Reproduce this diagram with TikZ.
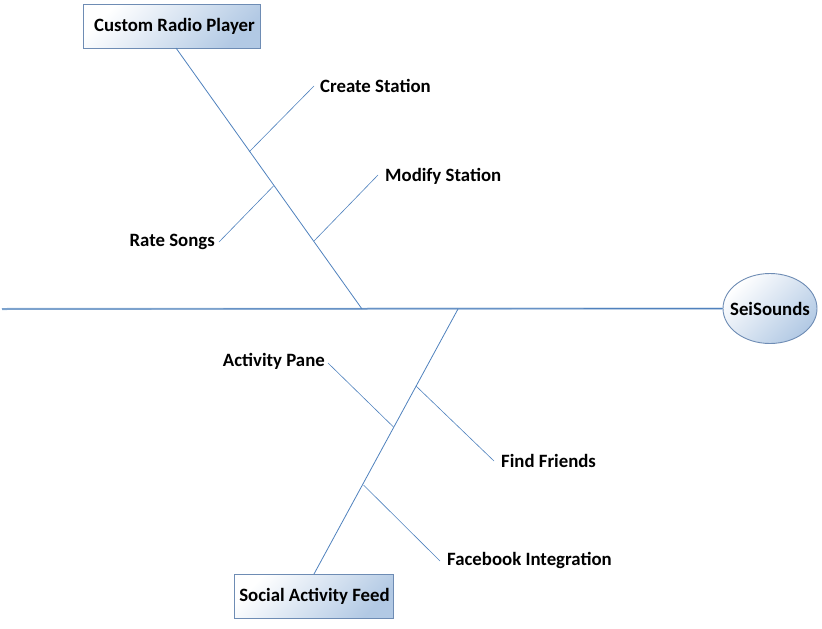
\documentclass[tikz,border=0pt]{standalone}
\usepackage{fontspec}
\setmainfont{Carlito}
\usetikzlibrary{shapes.geometric}
\definecolor{linec}{RGB}{79,129,189}
\definecolor{spinec}{RGB}{150,180,215}
\definecolor{boxblue}{RGB}{178,201,228}
\definecolor{boxline}{RGB}{110,140,180}
\tikzset{
  lbl/.style={font=\fontsize{18.8}{22}\selectfont\bfseries, inner sep=0pt},
  headbox/.style={draw=boxline, line width=0.9pt, top color=white, bottom color=boxblue, shading angle=45, minimum height=44pt, inner sep=0pt, font=\fontsize{18.8}{22}\selectfont\bfseries},
  headell/.style={ellipse, draw=boxline, line width=0.9pt, top color=white, bottom color=boxblue, shading angle=45, minimum width=94pt, minimum height=70pt, inner xsep=-8pt, inner ysep=0pt, font=\fontsize{18.8}{22}\selectfont\bfseries},
  bone/.style={draw=linec, line width=0.8pt},
  rib/.style={draw=linec, line width=0.6pt},
  spine/.style={draw=spinec, line width=2pt},
  spinecore/.style={draw=linec, line width=0.7pt}
}
\begin{document}
\begin{tikzpicture}[x=1pt,y=-1pt]
\useasboundingbox (0,0) rectangle (822,629);
% heads
\node[headbox, minimum width=177pt] (crp) at (171.5,26) {\hspace{6pt}Custom Radio Player};
\node[headbox, minimum width=159pt] (saf) at (313.5,596) {\hspace{2pt}Social Activity Feed};
\node[headell] (sei) at (770,308.5) {SeiSounds};
% spine
\coordinate (tail) at (2,309);
\draw[spine] (tail) -- (sei.west);
\draw[spinecore] (tail) -- (sei.west);
% junctions
\coordinate (jt) at (362,309);
\coordinate (jb) at (458,309);
\coordinate (crpb) at (176,48);
\coordinate (safb) at (314,574);
\draw[bone] (crpb) -- (jt);
\draw[bone] (jb) -- (safb);
% top ribs
\coordinate (c1) at (249,152);
\coordinate (c2) at (314,241);
\coordinate (c3) at (273.5,186);
\node[lbl, anchor=west] (cs) at (320,86) {Create Station};
\node[lbl, anchor=west] (ms) at (385,176) {Modify Station};
\node[lbl, anchor=east] (rs) at (215,242) {Rate Songs};
\coordinate (cse) at (314,86);
\coordinate (mse) at (378,175);
\coordinate (rse) at (219,242);
\draw[rib] (c1) -- (cse);
\draw[rib] (c2) -- (mse);
\draw[rib] (c3) -- (rse);
% bottom ribs
\coordinate (d1) at (393.5,427);
\coordinate (d2) at (416,386);
\coordinate (d3) at (363.5,485);
\node[lbl, anchor=east] (ap) at (325,361) {Activity Pane};
\node[lbl, anchor=west] (ff) at (501,461) {Find Friends};
\node[lbl, anchor=west] (fi) at (447,560) {Facebook Integration};
\coordinate (ape) at (328,363);
\coordinate (ffe) at (494,461);
\coordinate (fie) at (440,561);
\draw[rib] (d1) -- (ape);
\draw[rib] (d2) -- (ffe);
\draw[rib] (d3) -- (fie);
\end{tikzpicture}
\end{document}
